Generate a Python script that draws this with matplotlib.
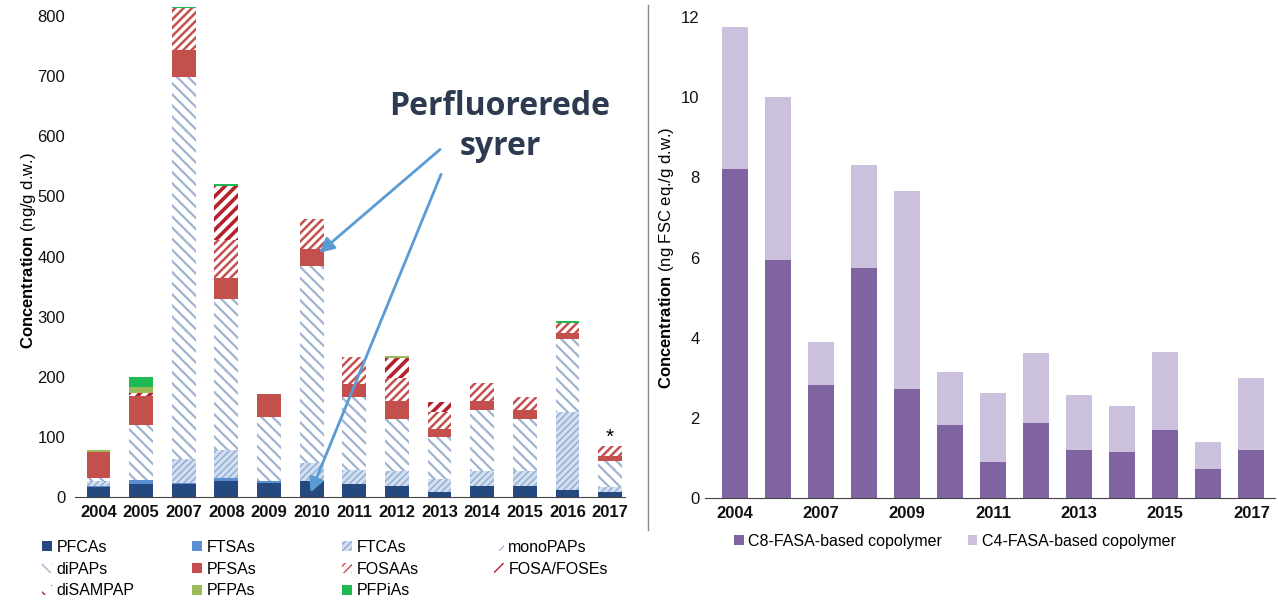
import matplotlib.pyplot as plt
from matplotlib.lines import Line2D
import numpy as np

plt.rcParams['font.family'] = ['Liberation Sans', 'DejaVu Sans']
plt.rcParams['mathtext.fontset'] = 'custom'
plt.rcParams['mathtext.rm'] = 'Liberation Sans'
plt.rcParams['mathtext.bf'] = 'Liberation Sans:bold'

# left chart: years and stacked series (ng/g d.w.)
years = ['2004', '2005', '2007', '2008', '2009', '2010', '2011', '2012', '2013', '2014', '2015', '2016', '2017']
pfcas    = [17, 22, 21, 26, 23, 26, 22, 19, 9, 19, 19, 11, 8]
ftsas    = [1, 7, 3, 6, 3, 0, 0, 0, 0, 0, 0, 0, 0]
ftcas    = [8, 0, 39, 47, 0, 31, 23, 25, 21, 24, 25, 131, 9]
monopaps = [0, 0, 0, 0, 0, 0, 0, 0, 0, 0, 0, 0, 0]
dipaps   = [6, 90, 635, 251, 107, 328, 122, 86, 70, 102, 86, 121, 43]
pfsas    = [43, 49, 45, 35, 39, 28, 21, 30, 13, 15, 15, 10, 8]
fosaas   = [0, 0, 70, 62, 0, 50, 45, 38, 29, 30, 22, 17, 17]
fosa     = [0, 5, 0, 91, 0, 0, 0, 34, 16, 0, 0, 0, 0]
disampap = [0, 0, 0, 0, 0, 0, 0, 0, 0, 0, 0, 0, 0]
pfpas    = [4, 10, 0, 0, 0, 0, 0, 2, 0, 0, 0, 0, 0]
pfpias   = [0, 17, 2, 2, 0, 0, 0, 0, 0, 0, 0, 3, 0]

# right chart (ng FSC eq./g d.w.)
c8_fasa = [8.2, 5.95, 2.83, 5.75, 2.72, 1.82, 0.89, 1.87, 1.2, 1.15, 1.7, 0.73, 1.19]
totals  = [11.75, 10.0, 3.88, 8.3, 7.65, 3.14, 2.61, 3.62, 2.56, 2.29, 3.65, 1.4, 3.0]
c4_fasa = [t - c for t, c in zip(totals, c8_fasa)]

series = [
    ('PFCAs', pfcas, '#24497e', None, '#24497e', 1.0),
    ('FTSAs', ftsas, '#5b8fd2', None, '#5b8fd2', 1.0),
    ('FTCAs', ftcas, '#d3dff0', '/////', '#8fabd2', 1.0),
    ('monoPAPs', monopaps, 'white', '//', '#a9bcd8', 1.2),
    ('diPAPs', dipaps, 'white', '\\\\\\', '#9fb3d0', 1.6),
    ('PFSAs', pfsas, '#c4504e', None, '#c4504e', 1.0),
    ('FOSAAs', fosaas, 'white', '////', '#c4504e', 1.8),
    ('FOSA/FOSEs', fosa, 'white', '///', '#b5202a', 2.6),
    ('diSAMPAP', disampap, 'white', '\\\\', '#b5202a', 2.6),
    ('PFPAs', pfpas, '#9bbb59', None, '#9bbb59', 1.0),
    ('PFPiAs', pfpias, '#1db954', None, '#1db954', 1.0),
]

fig = plt.figure(figsize=(12.78, 6), dpi=100)
ax = fig.add_axes([75 / 1278, 1 - 497 / 600, 550 / 1278, 493 / 600])
x = np.arange(len(years))
bottom = np.zeros(len(years))
handles = {}
for name, vals, fc, hatch, ec, hlw in series:
    with plt.rc_context({'hatch.linewidth': hlw}):
        bars = ax.bar(x, vals, 0.56, bottom=bottom, color=fc, edgecolor=ec,
                      hatch=hatch, linewidth=0, label=name)
    handles[name] = bars
    bottom += np.array(vals)

ax.set_xlim(-0.55, 12.35)
ax.set_ylim(0, 820)
ax.set_yticks([0, 100, 200, 300, 400, 500, 600, 700, 800])
ax.set_xticks(x)
ax.set_xticklabels(years, fontweight='bold', fontsize=12)
ax.tick_params(axis='both', length=0, labelsize=12, colors='#111111')
ax.tick_params(axis='x', pad=6)
ax.tick_params(axis='y', pad=7)
for s in ['top', 'right', 'left']:
    ax.spines[s].set_visible(False)
ax.spines['bottom'].set_color('#444444')
ax.set_ylabel(r'$\bf{Concentration}$ (ng/g d.w.)', fontsize=12)
ax.yaxis.set_label_coords(-0.068, 0.5)
ax.text(12, 84, '*', ha='center', va='bottom', fontsize=15)

# annotation
ax.text(9.42, 616, 'Perfluorerede\nsyrer', ha='center', va='center', fontsize=23,
        fontweight='bold', color='#2d3a4f', family=['Open Sans', 'DejaVu Sans'],
        linespacing=1.3)
arrow = dict(arrowstyle='-|>', color='#5b9bd5', lw=2, mutation_scale=22)
ax.annotate('', xy=(5.13, 403), xytext=(8.06, 581), arrowprops=arrow, annotation_clip=False)
ax.annotate('', xy=(4.95, 3), xytext=(8.06, 541), arrowprops=arrow, annotation_clip=False)

# left legend, one column at a time so the columns sit where they do in the reference
cols = [['PFCAs', 'diPAPs', 'diSAMPAP'], ['FTSAs', 'PFSAs', 'PFPAs'],
        ['FTCAs', 'FOSAAs', 'PFPiAs'], ['monoPAPs', 'FOSA/FOSEs']]
col_x = [42, 192, 342, 494]
for names, cx in zip(cols, col_x):
    fig.legend([handles[n] for n in names], names, loc='upper left',
               bbox_to_anchor=(cx / 1278, 1 - 540 / 600), frameon=False,
               fontsize=11.5, handlelength=0.6, handleheight=0.6, handletextpad=0.3,
               labelspacing=0.42, borderpad=0, borderaxespad=0)

# right chart
ax2 = fig.add_axes([705 / 1278, 1 - 498 / 600, 570 / 1278, 481 / 600])
b1 = ax2.bar(x, c8_fasa, 0.6, color='#8064a2', linewidth=0, label='C8-FASA-based copolymer')
b2 = ax2.bar(x, c4_fasa, 0.6, bottom=c8_fasa, color='#ccc1dc', linewidth=0,
             label='C4-FASA-based copolymer')
ax2.set_xlim(-0.7, 12.55)
ax2.set_ylim(0, 12)
ax2.set_yticks([0, 2, 4, 6, 8, 10, 12])
ax2.set_xticks(x[::2])
ax2.set_xticklabels(years[::2], fontweight='bold', fontsize=12)
ax2.tick_params(axis='both', length=0, labelsize=12, colors='#111111')
ax2.tick_params(axis='x', pad=6)
ax2.tick_params(axis='y', pad=4)
for s in ['top', 'right', 'left']:
    ax2.spines[s].set_visible(False)
ax2.spines['bottom'].set_color('#444444')
ax2.set_ylabel(r'$\bf{Concentration}$ (ng FSC eq./g d.w.)', fontsize=12)
ax2.yaxis.set_label_coords(-0.05, 0.5)
fig.legend([b1, b2], ['C8-FASA-based copolymer', 'C4-FASA-based copolymer'],
           loc='upper left', bbox_to_anchor=(734 / 1278, 1 - 534 / 600), ncol=2,
           frameon=False, fontsize=11.5, handlelength=0.6, handleheight=0.6,
           handletextpad=0.3, columnspacing=1.6, borderpad=0, borderaxespad=0)

# divider between the two panels
fig.add_artist(Line2D([648 / 1278, 648 / 1278], [1 - 530 / 600, 1 - 5 / 600],
                      color='#888888', lw=1))

fig.savefig('out.png', dpi=100)
